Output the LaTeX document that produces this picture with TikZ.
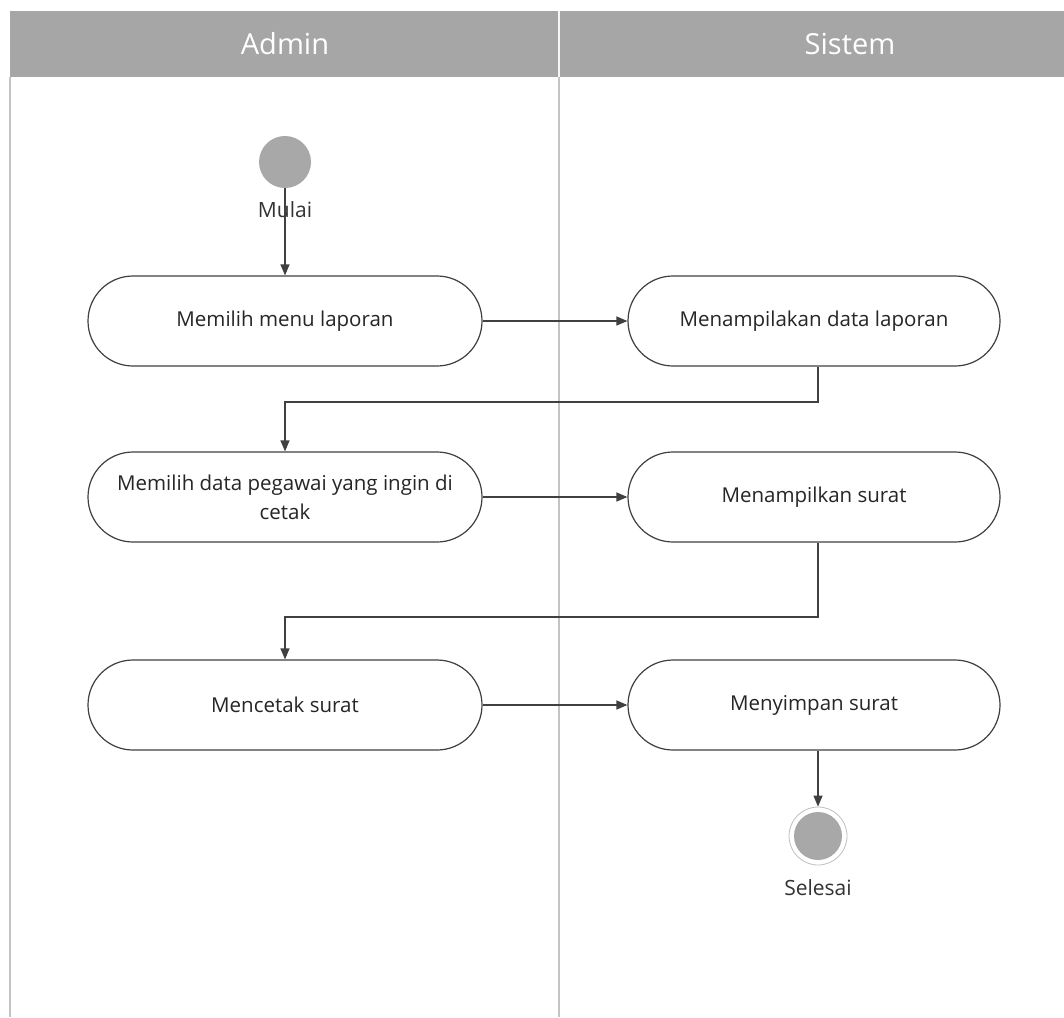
\documentclass[tikz,border=0pt]{standalone}
\usepackage{fontspec}
\setmainfont{Open Sans}
\usetikzlibrary{arrows.meta}
\definecolor{hdr}{HTML}{A6A6A6}
\definecolor{lanec}{HTML}{C4C4C4}
\definecolor{edgec}{HTML}{404040}
\definecolor{dotc}{HTML}{A8A8A8}
\begin{document}
\begin{tikzpicture}[x=1pt,y=-1pt,
  actbox/.style={draw=edgec,line width=1.2pt,fill=white,rounded corners=45pt,
    minimum width=394pt,minimum height=90pt,inner sep=0pt,align=center,
    font=\fontsize{20.5}{29}\selectfont,text=black!85},
  flow/.style={draw=edgec,line width=1.2pt,-{Triangle[length=11pt,width=9pt]}},
  lbl/.style={font=\fontsize{21}{25}\selectfont,text=black!80},
  hdrtext/.style={font=\fontsize{29}{34}\selectfont,text=white}]
\useasboundingbox (0,0) rectangle (1064,1017);
\fill[white] (0,0) rectangle (1064,1017);
% header
\fill[hdr] (10,11) rectangle (1064,77);
\node[hdrtext] (hadmin) at (285,44) {Admin};
\node[hdrtext] (hsistem) at (850,44) {Sistem};
% lane lines
\draw[lanec,line width=2pt] (10,77) -- (10,1017);
\draw[lanec,line width=2pt] (559,77) -- (559,1017);
\draw[white!90!hdr,line width=1.5pt] (559,11) -- (559,77);
% start
\node[circle,fill=dotc,minimum size=52pt,inner sep=0pt] (start) at (285,162) {};
\node[lbl] (mulai) at (285,210) {Mulai};
% boxes
\node[actbox] (b1) at (285,321) {Memilih menu laporan};
\node[actbox,minimum width=372pt] (b2) at (814,321) {Menampilakan data laporan};
\node[actbox] (b3) at (285,497) {Memilih data pegawai yang ingin di\\cetak};
\node[actbox,minimum width=372pt] (b4) at (814,497) {Menampilkan surat};
\node[actbox] (b5) at (285,705) {Mencetak surat};
\node[actbox,minimum width=372pt] (b6) at (814,705) {Menyimpan surat};
% end
\node[circle,draw=black!25,line width=0.8pt,fill=white,minimum size=58pt,inner sep=0pt] (endo) at (818,836) {};
\node[circle,fill=dotc,minimum size=48pt,inner sep=0pt] (endi) at (818,836) {};
\node[lbl] (selesai) at (818,888) {Selesai};
% connectors
\draw[flow] (start.south) -- (b1.north);
\draw[flow] (b1.east) -- (b2.west);
\coordinate (c1) at (818,402);
\draw[flow] (b2.south -| c1) -- (c1) -| (b3.north);
\draw[flow] (b3.east) -- (b4.west);
\coordinate (c2) at (818,617);
\draw[flow] (b4.south -| c2) -- (c2) -| (b5.north);
\draw[flow] (b5.east) -- (b6.west);
\draw[flow] (b6.south -| endo) -- (endo.north);
\end{tikzpicture}
\end{document}
